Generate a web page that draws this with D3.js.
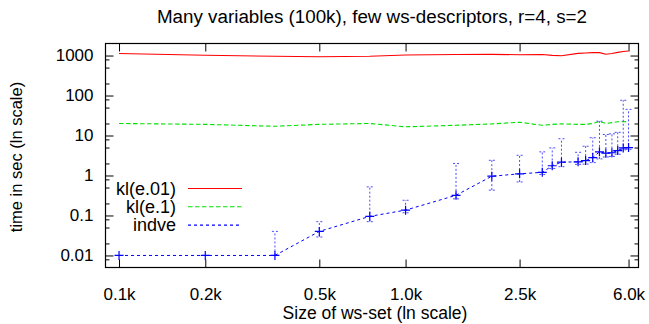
<!DOCTYPE html>
<html>
<head>
<meta charset="utf-8">
<script src="https://cdn.jsdelivr.net/npm/d3@7"></script>
<style>
  body { margin: 0; background: #fff; }
  svg text { font-family: "Liberation Sans", Arial, sans-serif; fill: #000; }
  .axis path { display: none; }
  .axis line { stroke: #000; stroke-width: 1; }
  .axis text { font-size: 17px; }
</style>
</head>
<body>
<div id="chart"></div>
<script>
// data (x in thousands, y in seconds)
var sizes   = [0.1, 0.2, 0.35, 0.5, 0.75, 1.0, 1.5, 2.0, 2.5, 3.0, 3.25, 3.5, 4.0, 4.25, 4.5, 4.75, 5.0, 5.25, 5.5, 5.75, 6.0];
var klE01   = [1120, 1020, 960, 930, 960, 1030, 1060, 1070, 1050, 1060, 1010, 990, 1130, 1160, 1180, 1180, 1080, 1120, 1200, 1260, 1300];
var klE1    = [20, 19, 17, 19, 20, 16.5, 18, 19.5, 21.5, 18, 19, 19.5, 19, 19, 20, 22.5, 20, 21, 22, 22, 22.5];
var indve     = [0.01, 0.01, 0.01, 0.04, 0.095, 0.136, 0.32, 0.96, 1.1, 1.2, 1.75, 2.15, 2.2, 2.36, 2.8, 3.9, 3.6, 3.7, 4.2, 4.9, 5.0];
var indveLow  = [0.01, 0.01, 0.01, 0.029, 0.07, 0.117, 0.26, 0.43, 0.69, 1.06, 1.5, 1.66, 1.9, 1.93, 2.1, 2.6, 2.9, 3.0, 3.4, 4.4, 4.5];
var indveHigh = [0.01, 0.01, 0.04, 0.07, 0.52, 0.24, 2.0, 2.4, 3.2, 3.9, 4.9, 8.3, 3.8, 5.4, 8.8, 22.8, 10.6, 11, 12, 76, 45];
var xTicks = [0.1, 0.2, 0.5, 1.0, 2.5, 6.0];
var yTicks = [0.01, 0.1, 1, 10, 100, 1000];
var seriesNames = ['kl(e.01)', 'kl(e.1)', 'indve'];
var seriesColors = ['#ff0000', '#00e000', '#0000ff'];

// 畫布
var width = 649, height = 324;
var margin = {top: 43.5, right: 10.5, bottom: 56.5, left: 105.5};
var plotW = width - margin.left - margin.right;
var plotH = height - margin.top - margin.bottom;

var svg = d3.select('#chart').append('svg')
  .attr('width', width)
  .attr('height', height);

var x = d3.scaleLog().domain([0.0897, 6.5]).range([0, plotW]);
var y = d3.scaleLog().domain([0.005, 2000]).range([plotH, 0]);

var g = svg.append('g').attr('transform', `translate(${margin.left},${margin.top})`);

// 軸 (ticks inward, mirrored)
var yMinor = [];
[-3, -2, -1, 0, 1, 2, 3].forEach(function(k) {
  [2, 5, 8].forEach(function(m) {
    var v = m * Math.pow(10, k);
    if (v > 0.005 && v < 2000) yMinor.push(v);
  });
});

g.append('g').attr('class', 'axis')
  .attr('transform', `translate(0,${plotH})`)
  .call(d3.axisBottom(x).tickValues(xTicks).tickSize(-8).tickPadding(20)
    .tickFormat(d => d3.format('.1f')(d) + 'k'));
g.append('g').attr('class', 'axis')
  .call(d3.axisTop(x).tickValues(xTicks).tickSize(-8).tickFormat(''));

g.append('g').attr('class', 'axis')
  .call(d3.axisLeft(y).tickValues(yTicks).tickSize(-8).tickPadding(12)
    .tickFormat(d => d3.format('~g')(d)));
g.append('g').attr('class', 'axis')
  .call(d3.axisLeft(y).tickValues(yMinor).tickSize(-4).tickFormat(''));
g.append('g').attr('class', 'axis')
  .attr('transform', `translate(${plotW},0)`)
  .call(d3.axisRight(y).tickValues(yTicks).tickSize(-8).tickFormat(''));
g.append('g').attr('class', 'axis')
  .attr('transform', `translate(${plotW},0)`)
  .call(d3.axisRight(y).tickValues(yMinor).tickSize(-4).tickFormat(''));

// 框
g.append('rect')
  .attr('width', plotW).attr('height', plotH)
  .attr('fill', 'none').attr('stroke', '#000').attr('stroke-width', 1.2);

// 線
var line = d3.line().x(d => x(d[0])).y(d => y(d[1]));

g.append('path')
  .datum(sizes.map((s, i) => [s, klE01[i]]))
  .attr('d', line).attr('fill', 'none')
  .attr('stroke', seriesColors[0]).attr('stroke-width', 1.1);

g.append('path')
  .datum(sizes.map((s, i) => [s, klE1[i]]))
  .attr('d', line).attr('fill', 'none')
  .attr('stroke', seriesColors[1]).attr('stroke-width', 1.1)
  .attr('stroke-dasharray', '4.5,2.5');

// error bars
var errData = sizes.map((s, i) => ({x: s, lo: indveLow[i], hi: indveHigh[i]}))
  .filter(d => d.hi > d.lo);
var errG = g.append('g')
  .attr('stroke', seriesColors[2]).attr('stroke-width', 1)
  .attr('stroke-dasharray', '2,2').attr('opacity', 0.7);
errG.selectAll('line.bar').data(errData).enter().append('line')
  .attr('class', 'bar')
  .attr('x1', d => x(d.x)).attr('x2', d => x(d.x))
  .attr('y1', d => y(d.lo)).attr('y2', d => y(d.hi));
['lo', 'hi'].forEach(function(k) {
  errG.selectAll('line.cap' + k).data(errData).enter().append('line')
    .attr('class', 'cap' + k)
    .attr('x1', d => x(d.x) - 3).attr('x2', d => x(d.x) + 3)
    .attr('y1', d => y(d[k])).attr('y2', d => y(d[k]));
});

g.append('path')
  .datum(sizes.map((s, i) => [s, indve[i]]))
  .attr('d', line).attr('fill', 'none')
  .attr('stroke', seriesColors[2]).attr('stroke-width', 1)
  .attr('stroke-dasharray', '3,3');

// + markers
var pts = g.append('g').attr('stroke', seriesColors[2]).attr('stroke-width', 1.2);
pts.selectAll('path').data(sizes.map((s, i) => [s, indve[i]])).enter().append('path')
  .attr('d', d => `M${x(d[0]) - 4.5},${y(d[1])}h9M${x(d[0])},${y(d[1]) - 4.5}v9`);

// 圖例
var legend = g.append('g').attr('transform', 'translate(0,145)');
seriesNames.forEach(function(name, i) {
  var row = legend.append('g').attr('transform', `translate(0,${i * 18.3})`);
  row.append('text').attr('x', 70.5).attr('y', 6)
    .style('text-anchor', 'end').style('font-size', '18px').text(name);
  row.append('line').attr('x1', 82.5).attr('x2', 136.5).attr('y1', 0).attr('y2', 0)
    .attr('stroke', seriesColors[i]).attr('stroke-width', 1.1)
    .attr('stroke-dasharray', i == 0 ? null : (i == 1 ? '4.5,2.5' : '3,3'));
});

// 標題
svg.append('text').attr('x', 372).attr('y', 23)
  .style('text-anchor', 'middle').style('font-size', '18.8px')
  .text('Many variables (100k), few ws-descriptors, r=4, s=2');
svg.append('text').attr('x', 375).attr('y', 319)
  .style('text-anchor', 'middle').style('font-size', '17.5px')
  .text('Size of ws-set (ln scale)');
svg.append('text')
  .attr('transform', 'translate(22,157) rotate(-90)')
  .style('text-anchor', 'middle').style('font-size', '16.5px')
  .text('time in sec (ln scale)');
</script>
</body>
</html>
